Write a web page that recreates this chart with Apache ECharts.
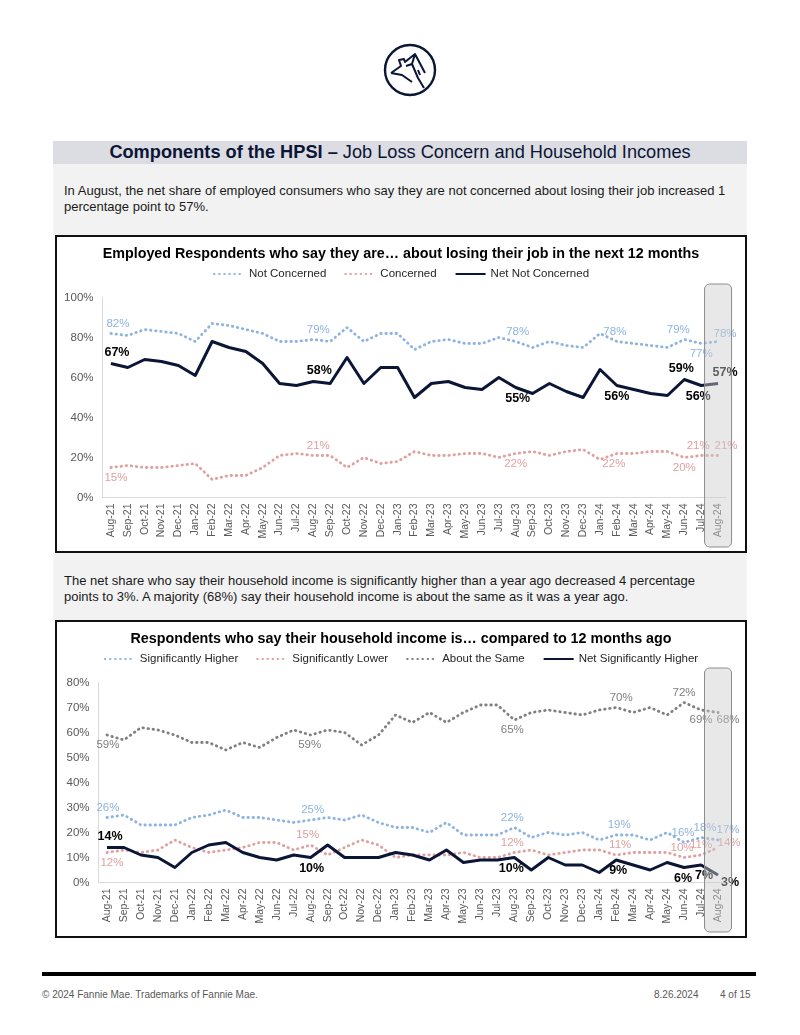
<!DOCTYPE html>
<html>
<head>
<meta charset="utf-8">
<script src="https://cdn.jsdelivr.net/npm/echarts@6/dist/echarts.min.js"></script>
<style>
  body { margin: 0; background: #fff; font-family: "Liberation Sans", Arial, sans-serif; }
  .page { position: relative; width: 800px; height: 1035px; }
  .logo { position: absolute; left: 382px; top: 42px; }
  .banner { position: absolute; left: 53px; top: 141px; width: 694px; height: 23px; background: #dcdce3;
    text-align: center; font-size: 18.2px; line-height: 23px; color: #0b1535; }
  .panel { position: absolute; left: 53px; width: 694px; background: #f2f2f2; }
  .panel p { margin: 0; position: absolute; left: 11px; right: 4px; font-size: 13px; line-height: 16px; color: #1a1a1a; white-space: nowrap; }
  .box { position: absolute; left: 55px; width: 688px; height: 314px; border: 2px solid #111; background: #fff; }
  .chart { width: 688px; height: 314px; }
  .rule { position: absolute; left: 42px; top: 972px; width: 714px; height: 4px; background: #000; }
  .foot { position: absolute; top: 989px; font-size: 10px; color: #595959; }
</style>
</head>
<body>
<div class="page">
  <svg class="logo" width="56" height="56" viewBox="0 0 56 56">
    <circle cx="28" cy="28" r="25" fill="none" stroke="#0b1535" stroke-width="2.4"/>
    <path d="M9 31 L19 24 L17 18 L22 17 L23 20 L33 12 L43 31 M33 12 L30 22 L36 36 L42 46 M9 31 L20 33 L30 40 M30 22 L24 24 M36 28 L38 33" fill="none" stroke="#0b1535" stroke-width="2" stroke-linejoin="round"/>
  </svg>
  <div class="banner"><b>Components of the HPSI –</b> Job Loss Concern and Household Incomes</div>
  <div class="panel" style="top:164px;height:71px;">
    <p style="top:19px;">In August, the net share of employed consumers who say they are not concerned about losing their job increased 1<br>percentage point to 57%.</p>
  </div>
  <div class="box" style="top:235px;"><div id="c1" class="chart"></div></div>
  <div class="panel" style="top:553px;height:67px;">
    <p style="top:20px;">The net share who say their household income is significantly higher than a year ago decreased 4 percentage<br>points to 3%. A majority (68%) say their household income is about the same as it was a year ago.</p>
  </div>
  <div class="box" style="top:620px;"><div id="c2" class="chart"></div></div>
  <div class="rule"></div>
  <div class="foot" style="left:42px;">© 2024 Fannie Mae. Trademarks of Fannie Mae.</div>
  <div class="foot" style="left:654px;">8.26.2024</div>
  <div class="foot" style="left:720px;">4 of 15</div>
</div>
<script>
const months = ["Aug-21","Sep-21","Oct-21","Nov-21","Dec-21","Jan-22","Feb-22","Mar-22","Apr-22","May-22","Jun-22","Jul-22",
  "Aug-22","Sep-22","Oct-22","Nov-22","Dec-22","Jan-23","Feb-23","Mar-23","Apr-23","May-23","Jun-23","Jul-23",
  "Aug-23","Sep-23","Oct-23","Nov-23","Dec-23","Jan-24","Feb-24","Mar-24","Apr-24","May-24","Jun-24","Jul-24","Aug-24"];

// chart 1: job loss concern
const notConcerned = [82,81,84,83,82,78,87,86,84,82,78,78,79,78,85,78,82,82,74,78,79,77,77,80,78,75,78,76,75,82,78,77,76,75,79,77,78];
const concerned = [15,16,15,15,16,17,9,11,11,15,21,22,21,21,15,20,17,18,23,21,21,22,22,20,22,23,21,23,24,19,22,22,23,23,20,21,21];
const netNotConcerned = [67,65,69,68,66,61,78,75,73,67,57,56,58,57,70,57,65,65,50,57,58,55,54,60,55,52,57,53,50,64,56,54,52,51,59,56,57];
const ticks1 = [0,20,40,60,80,100];

// chart 2: household income
const sigHigher = [26,27,23,23,23,26,27,29,26,26,25,24,25,26,25,27,24,22,22,20,24,19,19,19,22,18,20,19,20,17,19,19,17,20,16,18,17];
const sigLower = [12,13,12,13,17,14,12,13,14,16,16,13,15,11,14,17,15,10,11,11,11,12,10,10,12,13,11,12,13,13,11,12,12,12,10,11,14];
const aboutSame = [59,57,62,61,59,56,56,53,56,54,58,61,59,61,60,55,59,67,64,68,64,68,71,71,65,68,69,68,67,69,70,68,70,67,72,69,68];
const netSigHigher = [14,14,11,10,6,12,15,16,12,10,9,11,10,15,10,10,10,12,11,9,13,8,9,9,10,5,10,7,7,4,9,7,5,8,6,7,3];
const ticks2 = [0,10,20,30,40,50,60,70,80];

const BLUE = "#8db3e2", PINK = "#e0a0a0", GREY = "#7f7f7f", NAVY = "#0b1535";
const FONT = "Liberation Sans";

// which points get a label: [index, position, offset]
function labelled(values, spec, bold, color) {
  return values.map((v, i) => {
    const s = spec.find(p => p[0] === i);
    if (!s) return v;
    return {
      value: v,
      label: {
        show: true, position: s[1], offset: s[2] || [0, 0], distance: 4,
        formatter: "{c}%", fontSize: bold ? 12.5 : 11.5, fontFamily: FONT,
        fontWeight: bold ? "bold" : "normal", color: bold ? "#000" : color
      }
    };
  });
}

function dotted(name, color, data) {
  return {
    name, type: "line", data, symbol: "circle", symbolSize: 0.1, showSymbol: true, z: 2,
    lineStyle: { color, width: 2.8, type: [0.5, 4.6], cap: "round" },
    itemStyle: { color }
  };
}
function solid(name, data) {
  return {
    name, type: "line", data, symbol: "circle", symbolSize: 0.1, showSymbol: true, z: 3,
    lineStyle: { color: NAVY, width: 3, join: "round" },
    itemStyle: { color: NAVY }
  };
}

function baseOption(title, legendData, ticks, gridLeft) {
  const max = ticks[ticks.length - 1];
  return {
    animation: false,
    textStyle: { fontFamily: FONT },
    title: { text: title, left: "center", top: 5,
      textStyle: { fontSize: 14.3, fontWeight: "bold", color: "#000", fontFamily: FONT } },
    legend: { data: legendData, top: 26, itemWidth: 30, itemHeight: 8, itemGap: 18,
      itemStyle: { opacity: 0 },
      textStyle: { fontSize: 11.5, color: "#262626", fontFamily: FONT } },
    grid: { left: gridLeft, right: 18.5, top: 60.5, bottom: 53.5 },
    xAxis: {
      type: "category", data: months, boundaryGap: true,
      axisLine: { lineStyle: { color: "#d9d9d9", width: 1 } },
      axisTick: { show: false },
      axisLabel: { rotate: 90, interval: 0, fontSize: 10.5, color: "#595959", margin: 6, fontFamily: FONT }
    },
    yAxis: {
      type: "value", min: 0, max, interval: ticks[1] - ticks[0],
      axisLine: { show: true, lineStyle: { color: "#d9d9d9" } },
      splitLine: { show: false },
      axisLabel: { formatter: "{value}%", fontSize: 11.5, color: "#595959", margin: 9, fontFamily: FONT }
    }
  };
}

function highlight(chart, cat, top, bottom) {
  const cx = chart.convertToPixel({ xAxisIndex: 0 }, cat);
  chart.setOption({
    graphic: [{
      type: "rect", z: 100,
      shape: { x: cx - 13.5, y: top, width: 27, height: bottom - top, r: 5 },
      style: { fill: "rgba(205,205,205,0.45)", stroke: "#8c8c8c", lineWidth: 1 }
    }]
  });
}

const c1 = echarts.init(document.getElementById("c1"));
const opt1 = baseOption("Employed Respondents who say they are… about losing their job in the next 12 months",
  ["Not Concerned", "Concerned", "Net Not Concerned"], ticks1, 45.5);
opt1.series = [
  dotted("Not Concerned", BLUE, labelled(notConcerned,
    [[0,"top",[7,0]],[12,"top",[5,0]],[24,"top",[2,0]],[30,"top",[-2,0]],[34,"top",[-6,0]],[35,"bottom",[0,0]],[36,"top",[7,2]]], false, BLUE)),
  dotted("Concerned", PINK, labelled(concerned,
    [[0,"bottom",[5,0]],[12,"top",[5,0]],[24,"bottom",[0,0]],[30,"bottom",[-3,0]],[34,"bottom",[0,0]],[35,"top",[-3,0]],[36,"top",[8,0]]], false, PINK)),
  solid("Net Not Concerned", labelled(netNotConcerned,
    [[0,"top",[6,0]],[12,"top",[6,0]],[24,"bottom",[2,0]],[30,"bottom",[0,0]],[34,"top",[-3,0]],[35,"bottom",[-3,0]],[36,"top",[7,0]]], true))
];
c1.setOption(opt1);
highlight(c1, "Aug-24", 47, 310);

const c2 = echarts.init(document.getElementById("c2"));
const opt2 = baseOption("Respondents who say their household income is… compared to 12 months ago",
  ["Significantly Higher", "Significantly Lower", "About the Same", "Net Significantly Higher"], ticks2, 41.5);
opt2.series = [
  dotted("Significantly Higher", BLUE, labelled(sigHigher,
    [[0,"top",[1,0]],[12,"top",[2,0]],[24,"top",[-2,0]],[30,"top",[3,0]],[34,"top",[-1,0]],[35,"top",[4,0]],[36,"top",[10,0]]], false, BLUE)),
  dotted("Significantly Lower", PINK, labelled(sigLower,
    [[0,"bottom",[5,0]],[12,"top",[-3,0]],[24,"top",[-2,0]],[30,"top",[4,0]],[34,"top",[-2,0]],[35,"top",[0,0]],[36,"top",[11,5]]], false, PINK)),
  dotted("About the Same", GREY, labelled(aboutSame,
    [[0,"bottom",[1,0]],[12,"bottom",[-1,0]],[24,"bottom",[-2,0]],[30,"top",[5,0]],[34,"top",[0,0]],[35,"bottom",[0,0]],[36,"bottom",[10,-3]]], false, GREY)),
  solid("Net Significantly Higher", labelled(netSigHigher,
    [[0,"top",[3,0]],[12,"bottom",[1,0]],[24,"bottom",[-3,0]],[30,"bottom",[2,0]],[34,"bottom",[-1,0]],[35,"bottom",[3,0]],[36,"bottom",[12,-3]]], true))
];
c2.setOption(opt2);
highlight(c2, "Aug-24", 46, 310);
</script>
</body>
</html>
